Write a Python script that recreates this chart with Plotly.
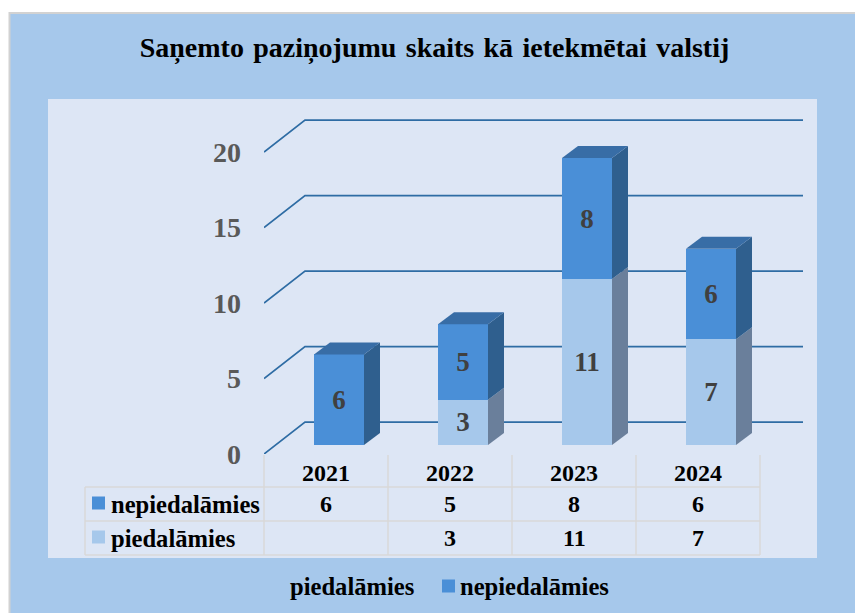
import plotly.graph_objects as go

years = [2021, 2022, 2023, 2024]
piedalamies = [None, 3, 11, 7]
nepiedalamies = [6, 5, 8, 6]
y_ticks = [0, 5, 10, 15, 20]
title = "Saņemto \u200apaziņojumu \u200askaits \u200akā \u200aietekmētai \u200avalstij"
name_a = "piedalāmies"
name_b = "nepiedalāmies"

W, H = 855, 613
L, R, T, B = 264, 803, 100, 454
UNIT = 15.1
XUNIT = 124.0
FONT = "Liberation Serif"
C_BG = "#A6C8EB"; C_PANEL = "#DDE6F5"; C_DARK = "#4A8FD7"; C_LIGHT = "#A6C8EB"
C_DARK_SIDE = "#2F5F8E"; C_LIGHT_SIDE = "#6A7F9B"; C_TOP = "#386DA6"
C_GRID = "#2E6CA4"; C_TABLE = "#D9D9D9"

def px(x):
    return (x - L) / (R - L)
def py(y):
    return (B - y) / (B - T)

xr = [years[0] - 62 / XUNIT, years[0] + (R - L - 62) / XUNIT]
yr = [0, (B - T) / UNIT]
bar_shift = 13 / XUNIT
bar_zero = (B - 445) / UNIT
xr2 = [xr[0] - bar_shift, xr[1] - bar_shift]
yr2 = [-bar_zero, yr[1] - bar_zero]
bar_w = 50 / XUNIT
bar_dx, bar_dy = 16 / XUNIT, 12 / UNIT
wall_dx, wall_dy = 41 / XUNIT, 32 / UNIT

fig = go.Figure()

# walls / grid
for v in y_ticks:
    fig.add_trace(go.Scatter(
        x=[xr[0], xr[0] + wall_dx, xr[1]], y=[v, v + wall_dy, v + wall_dy], mode="lines",
        line=dict(color=C_GRID, width=1.75), showlegend=False, hoverinfo="skip", cliponaxis=False))

# fronts
for name, vals, col in [(name_a, piedalamies, C_LIGHT), (name_b, nepiedalamies, C_DARK)]:
    fig.add_trace(go.Bar(
        x=years, y=vals, name=name, xaxis="x2", yaxis="y2", width=bar_w,
        marker=dict(color=col, line=dict(width=0)),
        text=vals, textposition="inside", insidetextanchor="middle", textangle=0,
        constraintext="none",
        textfont=dict(family=FONT, size=27, color="#404040", weight="bold"),
        hoverinfo="skip"))

# side and top faces, derived from the same values
def poly(xs, ys, col):
    fig.add_trace(go.Scatter(
        x=xs, y=ys, mode="lines", fill="toself", fillcolor=col, line=dict(width=0, color=col),
        xaxis="x2", yaxis="y2", showlegend=False, hoverinfo="skip", cliponaxis=False))

for yr_, a, b in zip(years, piedalamies, nepiedalamies):
    right = yr_ + bar_w / 2
    left = yr_ - bar_w / 2
    a0 = a or 0
    if a0:
        poly([right, right + bar_dx, right + bar_dx, right, right],
             [0, bar_dy, a0 + bar_dy, a0, 0], C_LIGHT_SIDE)
    total = a0 + b
    poly([right, right + bar_dx, right + bar_dx, right, right],
         [a0, a0 + bar_dy, total + bar_dy, total, a0], C_DARK_SIDE)
    poly([left, left + bar_dx, right + bar_dx, right, left],
         [total, total + bar_dy, total + bar_dy, total, total], C_TOP)

shapes = [
    dict(type="rect", xref="paper", yref="paper", x0=px(9.5), x1=px(870), y0=py(13), y1=py(630),
         fillcolor=C_BG, line=dict(color="#D2D2D2", width=2), layer="below"),
    dict(type="rect", xref="paper", yref="paper", x0=px(48), x1=px(817), y0=py(99), y1=py(558),
         fillcolor=C_PANEL, line=dict(width=0), layer="below"),
]
tl = dict(color=C_TABLE, width=1.5)
for xp in [264, 388, 512, 636, 760]:
    shapes.append(dict(type="line", xref="paper", yref="paper", x0=px(xp), x1=px(xp), y0=py(455), y1=py(555), line=tl, layer="below"))
shapes.append(dict(type="line", xref="paper", yref="paper", x0=px(85), x1=px(85), y0=py(487), y1=py(555), line=tl, layer="below"))
for yp in [487, 521, 555]:
    shapes.append(dict(type="line", xref="paper", yref="paper", x0=px(85), x1=px(760), y0=py(yp), y1=py(yp), line=tl, layer="below"))
for xp, yp, col in [(92, 503, C_DARK), (92, 537, C_LIGHT), (442, 586, C_DARK)]:
    shapes.append(dict(type="rect", xref="paper", yref="paper", x0=px(xp), x1=px(xp + 13), y0=py(yp - 6.5), y1=py(yp + 6.5),
                       fillcolor=col, line=dict(width=0)))

anns = []
tf = dict(family=FONT, size=24, color="#000000", weight="bold")
nf = dict(family=FONT, size=24.6, color="#000000", weight="bold")
for row_y, name, vals in [(504, name_b, nepiedalamies), (538, name_a, piedalamies)]:
    anns.append(dict(xref="paper", yref="paper", x=px(109), y=py(row_y), xanchor="left", yanchor="middle",
                     text=name, showarrow=False, font=nf))
    for yv, v in zip(years, vals):
        if v is not None:
            anns.append(dict(xref="x", yref="paper", x=yv, y=py(row_y), xanchor="center", yanchor="middle",
                             text=str(v), showarrow=False, font=tf))
# bottom key, in the reference's order
anns.append(dict(xref="paper", yref="paper", x=px(288), y=py(586), xanchor="left", yanchor="middle",
                 text=name_a, showarrow=False, font=nf))
anns.append(dict(xref="paper", yref="paper", x=px(458), y=py(586), xanchor="left", yanchor="middle",
                 text=name_b, showarrow=False, font=nf))

fig.update_layout(
    width=W, height=H, autosize=False,
    margin=dict(l=L, r=W - R, t=T, b=H - B, pad=0, autoexpand=False),
    paper_bgcolor="#FFFFFF", plot_bgcolor="rgba(0,0,0,0)",
    barmode="stack", shapes=shapes, annotations=anns,
    title=dict(text=title, x=px(434.5), xanchor="center", xref="paper", y=1 - 47 / H, yanchor="middle",
               font=dict(family=FONT, size=28, color="#000000", weight="bold")),
    xaxis=dict(range=xr, tickvals=years, tickformat="d", showgrid=False, zeroline=False, showline=False,
               ticks="", ticklabelstandoff=2,
               tickfont=dict(family=FONT, size=24, color="#000000", weight="bold")),
    yaxis=dict(range=yr, tickvals=y_ticks, showgrid=False, zeroline=False, showline=False, ticks="",
               ticklabelstandoff=22,
               tickfont=dict(family=FONT, size=28, color="#595959", weight="bold")),
    xaxis2=dict(range=xr2, overlaying="x", visible=False),
    yaxis2=dict(range=yr2, overlaying="y", visible=False),
    showlegend=False,
)
fig.write_html("out.html", post_script="document.body.style.margin='0';", config=dict(displayModeBar=False))
